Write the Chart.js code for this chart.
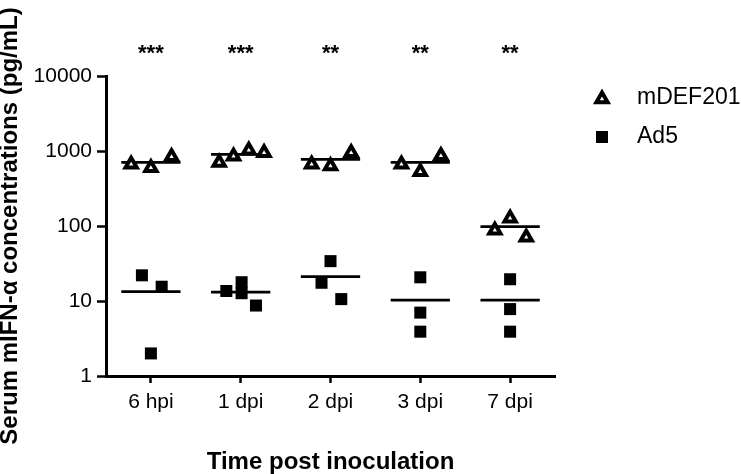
<!DOCTYPE html>
<html>
<head>
<meta charset="utf-8">
<script src="https://cdn.jsdelivr.net/npm/chart.js@4/dist/chart.umd.min.js"></script>
<style>
  html, body { margin: 0; padding: 0; background: #fff; }
  #wrap { width: 741px; height: 474px; }
</style>
</head>
<body>
<div id="wrap"><canvas id="chart" width="741" height="474"></canvas></div>
<script>
const timepoints = ['6 hpi', '1 dpi', '2 dpi', '3 dpi', '7 dpi'];
const significance = ['***', '***', '**', '**', '**'];
const yTicks = [1, 10, 100, 1000, 10000];

// individual animals, pg/mL
const mdef201Values = [[665, 600, 840], [700, 850, 1020, 950], [665, 630, 950], [665, 530, 865], [88, 127, 71]];
const mdef201Spread = [[-0.22, 0, 0.23], [-0.24, -0.08, 0.09, 0.26], [-0.21, 0, 0.23], [-0.21, 0, 0.23], [-0.17, 0, 0.18]];
const mdef201Means = [707, 903, 775, 707, 98];

const ad5Values = [[22, 15.5, 2], [13.6, 17.8, 12.7, 8.7], [34, 17.5, 10.6], [20.7, 7, 3.9], [19.5, 7.8, 3.9]];
const ad5Spread = [[-0.1, 0.12, 0], [-0.16, 0.01, 0.01, 0.17], [0, -0.1, 0.12], [0, 0, 0], [0, 0, 0]];
const ad5Means = [13.3, 13.1, 21.1, 10.3, 10.3];

const FONT = "'Liberation Sans', Arial, sans-serif";

function toPoints(values, spread) {
    const pts = [];
    values.forEach((group, i) => {
        group.forEach((v, j) => pts.push({ x: i + spread[i][j], y: v }));
    });
    return pts;
}

function meanSegments(means) {
    const pts = [];
    means.forEach((m, i) => {
        pts.push({ x: i - 0.33, y: m });
        pts.push({ x: i + 0.33, y: m });
        pts.push({ x: i + 0.5, y: null }); // break between groups
    });
    return pts;
}

const extras = {
    id: 'extras',
    afterDraw(chart) {
        const { ctx, scales } = chart;
        ctx.save();
        // significance stars
        ctx.fillStyle = '#000';
        ctx.font = 'bold 22px ' + FONT;
        ctx.textAlign = 'center';
        ctx.textBaseline = 'alphabetic';
        significance.forEach((s, i) => {
            ctx.fillText(s, scales.x.getPixelForValue(i), 60);
        });

        // legend
        ctx.strokeStyle = '#000';
        ctx.fillStyle = '#fff';
        ctx.lineWidth = 4;
        Chart.helpers.drawPoint(ctx, { pointStyle: 'triangle', radius: 6.5, borderWidth: 4, rotation: 0 }, 602, 99);
        ctx.fillStyle = '#000';
        Chart.helpers.drawPoint(ctx, { pointStyle: 'rect', radius: 8.5, borderWidth: 0, rotation: 0 }, 602, 137);
        ctx.font = '23px ' + FONT;
        ctx.textAlign = 'left';
        ctx.textBaseline = 'middle';
        ctx.fillText('mDEF201', 637, 98);
        ctx.fillText('Ad5', 637, 137);
        ctx.restore();
    }
};

new Chart(document.getElementById('chart'), {
    type: 'scatter',
    data: {
        datasets: [
            {
                label: 'mDEF201',
                data: toPoints(mdef201Values, mdef201Spread),
                pointStyle: 'triangle',
                pointRadius: 6.5,
                pointHoverRadius: 6.5,
                pointBorderWidth: 4,
                pointBorderColor: '#000',
                pointBackgroundColor: '#fff',
                order: 0
            },
            {
                label: 'Ad5',
                data: toPoints(ad5Values, ad5Spread),
                pointStyle: 'rect',
                pointRadius: 8.5,
                pointHoverRadius: 8.5,
                pointBorderWidth: 0,
                pointBackgroundColor: '#000',
                order: 1
            },
            {
                type: 'line',
                label: 'mDEF201 mean',
                data: meanSegments(mdef201Means),
                borderColor: '#000',
                borderWidth: 2.7,
                pointRadius: 0,
                spanGaps: false,
                order: 2
            },
            {
                type: 'line',
                label: 'Ad5 mean',
                data: meanSegments(ad5Means),
                borderColor: '#000',
                borderWidth: 2.7,
                pointRadius: 0,
                spanGaps: false,
                order: 3
            }
        ]
    },
    options: {
        responsive: false,
        animation: false,
        devicePixelRatio: 1,
        layout: { padding: { left: 0, right: 186, top: 76, bottom: 0 } },
        plugins: {
            legend: { display: false },
            tooltip: { enabled: false }
        },
        scales: {
            x: {
                type: 'linear',
                min: -0.5,
                max: 4.5,
                afterBuildTicks: (scale) => { scale.ticks = timepoints.map((t, i) => ({ value: i })); },
                afterFit: (scale) => { scale.height = 98; },
                ticks: {
                    color: '#000',
                    padding: 7,
                    font: { family: FONT, size: 21 },
                    callback: (v) => timepoints[v]
                },
                grid: { drawOnChartArea: false, drawTicks: true, tickLength: 7, tickWidth: 2.5, tickColor: '#000' },
                border: { display: true, color: '#000', width: 3 },
                title: {
                    display: true,
                    text: 'Time post inoculation',
                    color: '#000',
                    font: { family: FONT, size: 24, weight: 'bold', lineHeight: 1.0 },
                    padding: { top: 0, bottom: 0 }
                }
            },
            y: {
                type: 'logarithmic',
                min: 1,
                max: 10000,
                afterBuildTicks: (scale) => { scale.ticks = yTicks.map(v => ({ value: v, major: true })); },
                afterFit: (scale) => { scale.width = 106; },
                ticks: {
                    color: '#000',
                    padding: 5,
                    font: { family: FONT, size: 21 },
                    callback: (v) => String(v)
                },
                grid: { drawOnChartArea: false, drawTicks: true, tickLength: 9, tickWidth: 2.5, tickColor: '#000' },
                border: { display: true, color: '#000', width: 3 },
                title: {
                    display: true,
                    text: 'Serum mIFN-α concentrations (pg/mL)',
                    color: '#000',
                    font: { family: FONT, size: 24, weight: 'bold', lineHeight: 0.9 },
                    padding: { top: 0, bottom: 0 }
                }
            }
        }
    },
    plugins: [extras]
});
</script>
</body>
</html>
